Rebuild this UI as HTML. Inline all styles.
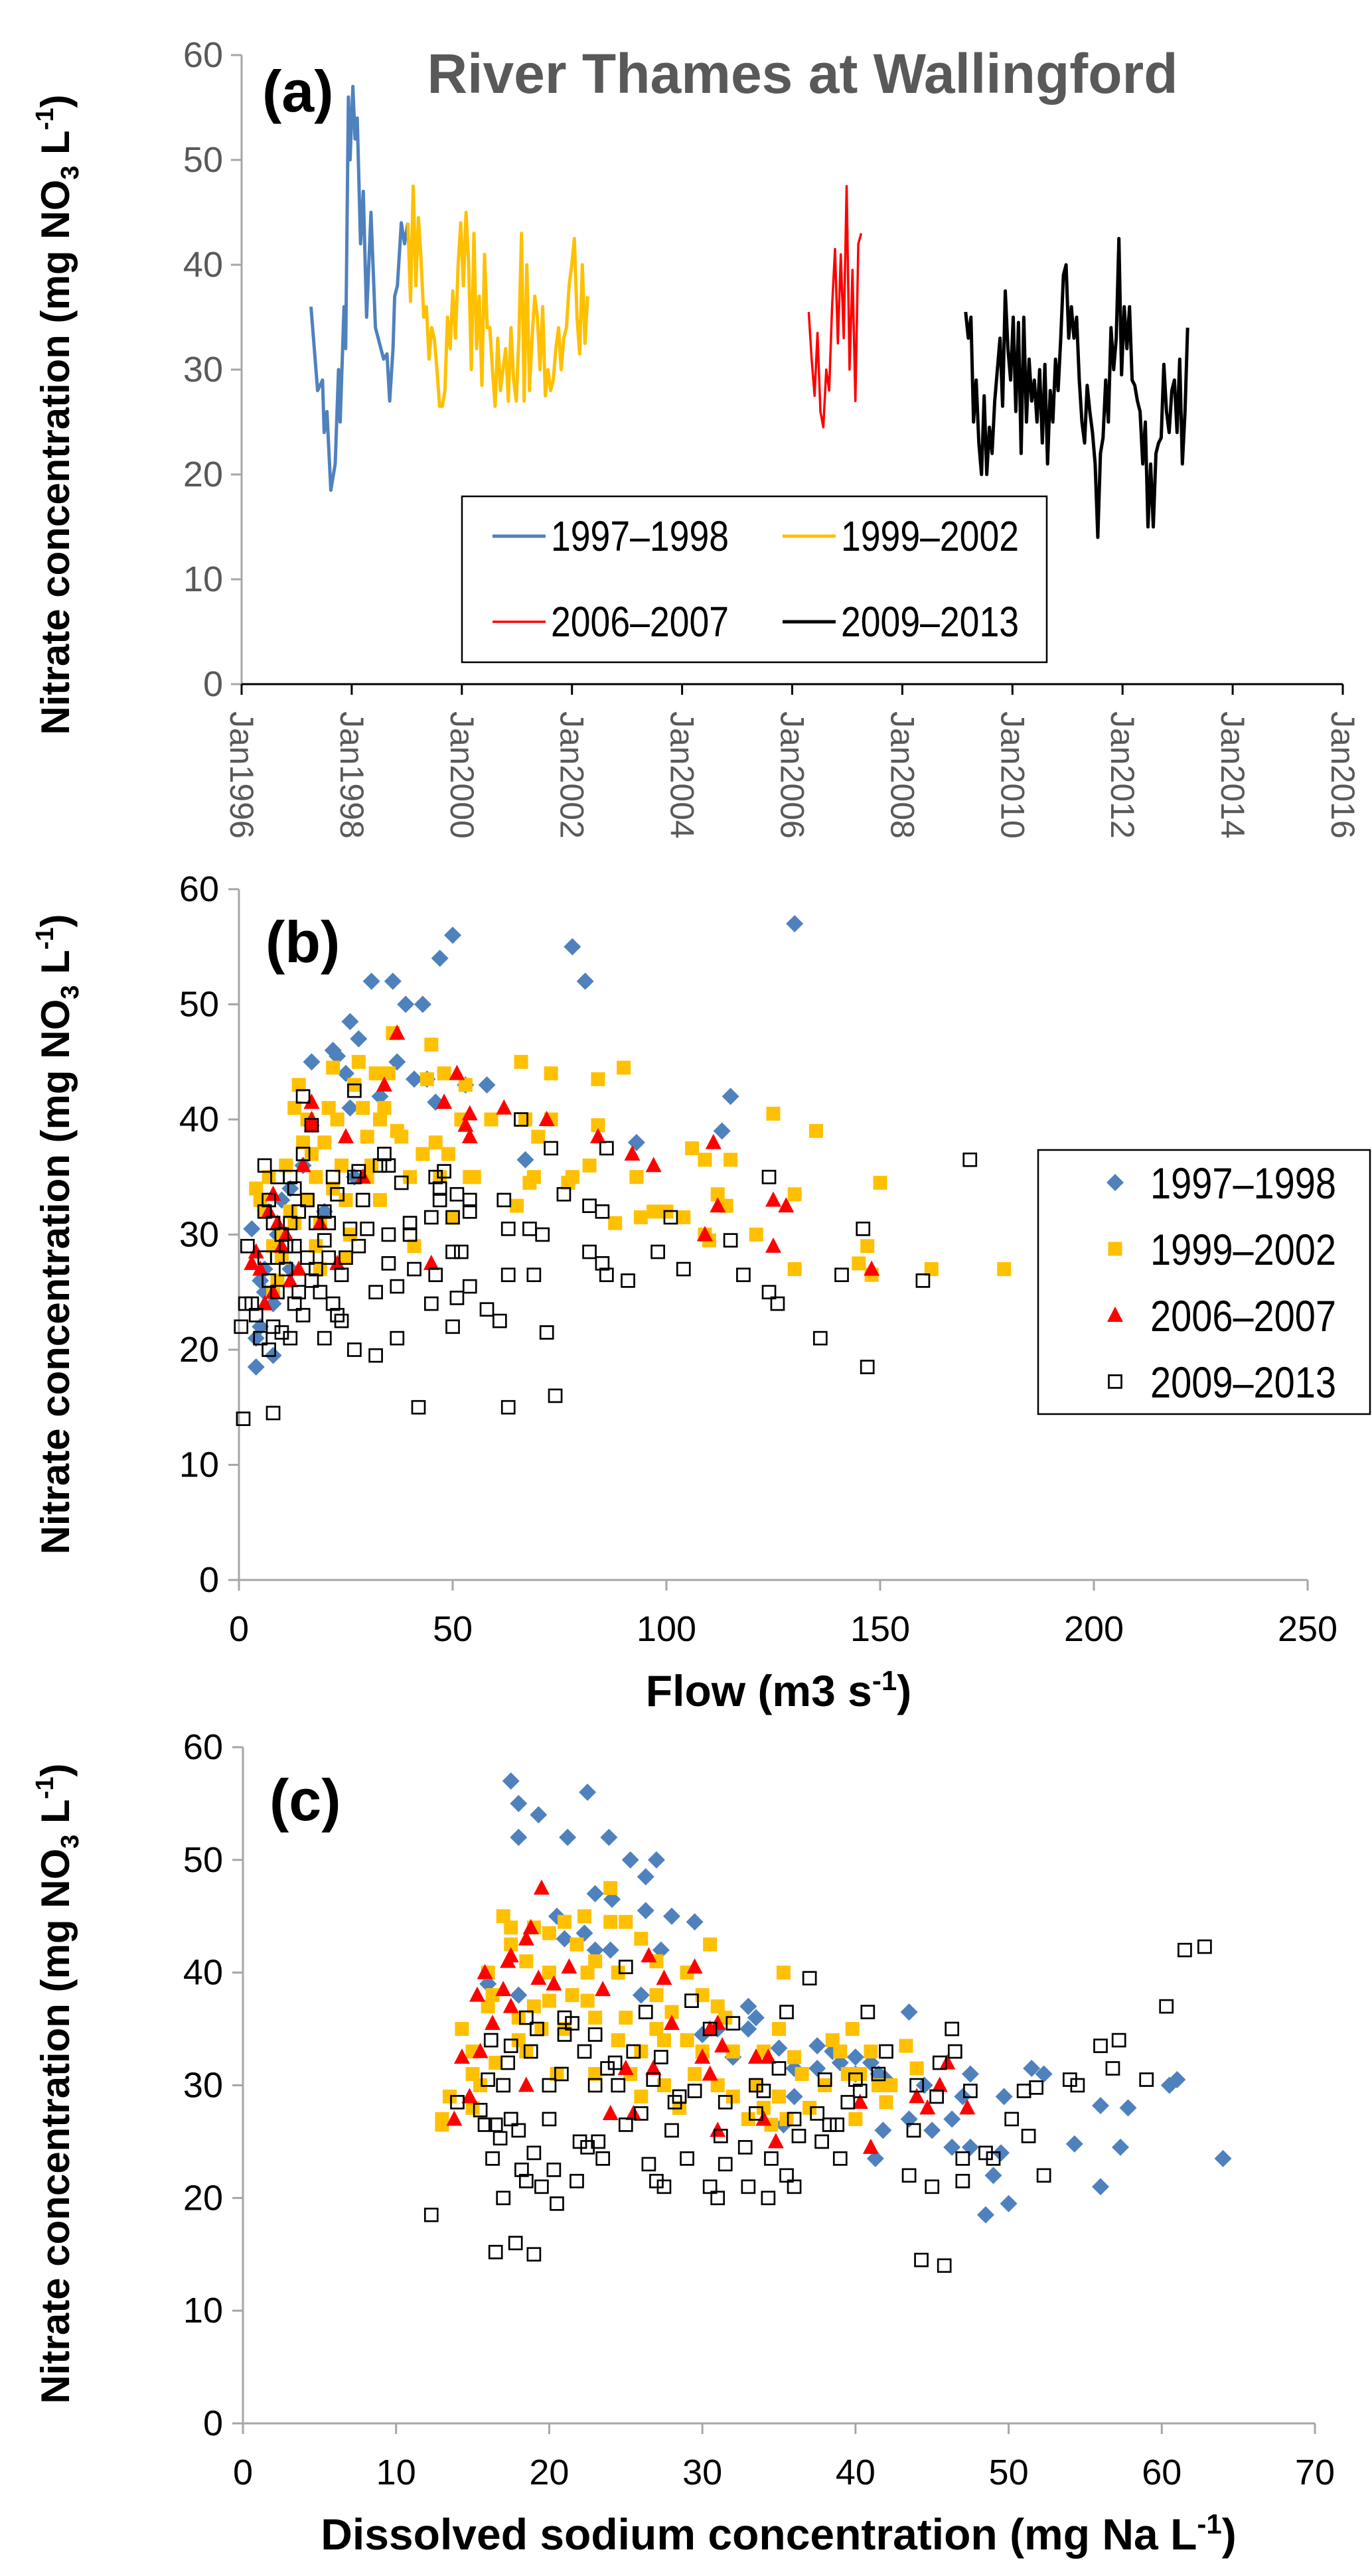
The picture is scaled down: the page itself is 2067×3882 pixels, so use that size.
<!DOCTYPE html>
<html><head><meta charset="utf-8">
<style>
html,body{margin:0;padding:0;background:#fff;}
svg{display:block;}
text{font-family:"Liberation Sans Narrow","Liberation Sans",sans-serif;}
</style></head>
<body>
<svg id="fig" width="2067" height="3882" viewBox="0 0 2067 3882" xmlns="http://www.w3.org/2000/svg"></svg>
<script>
// ---------- Panel (a) data: time series ----------
const blueYears=[1997.26,1997.38,1997.47,1997.50,1997.55,1997.62,1997.70,1997.76,1997.79,1997.86,1997.89,1997.94,1997.97,1998.02,1998.06,1998.10,1998.16,1998.21,1998.27,1998.35,1998.43,1998.58,1998.64,1998.69,1998.75,1998.78,1998.83,1998.90,1998.96,1999.02];
const blueVals=[36,28,29,24,26,18.5,21,30,25,36,32,56,50,57,52,54,42,47,35,45,34,31,31.5,27,32,37,38,44,42,44];
const yellowStart=1999.02, yellowStep=0.048;
const yellowVals=[44,36.5,47.5,38,44.5,40.5,35,36,31,34,33,30,26.5,26.5,28,35,32,37.5,33,40,44,38,45,40,30,43,32,37,28.5,41,34,34,30,26.5,33,28,30,32,27,34,29,27,33,43,27,40,28,33,37,35,30,36,27.5,30,28,29,32,34,30,33,34,38,40,42.5,35,31.5,40,32.5,37];
const redStart=2006.30, redStep=0.053;
const redVals=[35.5,31,27.5,33.5,26,24.5,30,28,36,41.5,32.5,41,33,47.5,30,39.5,27,42,43];
const blackStart=2009.15, blackStep=0.048;
const blackVals=[35.5,33,35,25,29,23,20,27.5,20,24.5,22,27,30,33,26.5,37.5,32,29,35,26,34.5,22,35,25,31,27,29,25,30,23,30.5,21,28,25,31,28,33,39,40,33,36,33,35,29,25,23,28.5,26,24,21,14,22,23.5,29,25,34,30,33,42.5,29.5,36,32,36,29,28.5,27,26,21,25,15,21,15,22,23,23.5,30.5,26,24,28,29,24,31,21,26,34];
const aYTicks=[0,10,20,30,40,50,60];
const aXTicks=[1996,1998,2000,2002,2004,2006,2008,2010,2012,2014,2016];

// ---------- Panel (b) data: flow vs nitrate ----------
const bBlue=[[3,30.5],[4,21],[4,18.5],[5,22],[6,25],[8,19.5],[8,24],[10,33],[12,27],[17,45],[22,46],[23,45.5],[25,44],[26,48.5],[26,41],[28,47],[31,52],[33,42],[36,52],[37,45],[39,50],[41,43.5],[43,50],[46,41.5],[47,54],[50,56],[53,43],[58,43],[67,36.5],[78,55],[81,52],[93,38],[113,39],[115,42],[130,57],[20,32],[15,36],[6,27],[9,30],[5,26],[27,35],[44,43.5],[12,34]];
const bYellow=[[4,34],[5,33],[6,32],[7,35],[8,29],[9,26],[10,30],[11,36],[12,32],[13,41],[14,43],[15,38],[16,40],[17,37],[18,35],[19,27],[20,38],[21,41],[22,44.5],[23,40],[24,36],[25,33],[26,30],[27,43],[28,45],[29,41],[30,38.5],[31,36],[32,44],[33,33],[34,41],[35,44],[36,47.5],[37,39],[38,38.5],[40,35],[41,29],[43,37],[44,43.5],[45,46.5],[46,38],[47,35],[48,44],[49,37],[50,31.5],[52,40],[53,43],[54,35],[55,35],[59,40],[65,32.5],[66,45],[67,40],[68,34.5],[69,35],[70,38.5],[73,44],[73,40],[77,34.5],[78,35],[82,36],[84,43.5],[84,39.5],[88,31],[90,44.5],[93,35],[94,31.5],[97,32],[100,32],[104,31.5],[106,37.5],[109,36.5],[109,30],[110,29.5],[112,33.5],[115,36.5],[114,32.5],[121,30],[125,40.5],[130,33.5],[130,27],[135,39],[145,27.5],[147,29],[148,26.5],[150,34.5],[162,27],[179,27],[16,33],[19,31],[22,34],[25,28],[18,29],[10,28],[8,25],[30,35],[33,40],[13,31]];
const bRed=[[3,27.5],[4,28.5],[5,27],[7,32],[8,33.5],[9,31],[10,29],[12,26],[15,36],[17,40],[17,41.5],[17,39.5],[19,31],[23,27.5],[25,38.5],[29,35],[34,43],[37,47.5],[45,27.5],[48,41.5],[51,44],[53,39.5],[54,38.5],[54,40.5],[62,41],[72,40],[84,38.5],[92,37],[97,36],[109,30],[111,38],[112,32.5],[125,33],[125,29],[128,32.5],[148,27],[6,24],[8,25],[11,30],[14,27]];
const bBlack=[[0.5,22],[1,14],[1.5,24],[2,29],[3,24],[4,23],[5,21],[6,28],[6,36],[6,32],[7,20],[7,26],[7,33],[8,31],[8,14.5],[8,22],[9,25],[9,35],[9,28],[10,21.5],[10,30],[11,29],[11,27],[12,31],[12,21],[12,35],[13,24],[13,29],[14,25],[14,32],[15,42],[15,37],[15,23],[16,28],[16,33],[17,39.5],[17,26],[18,31],[19,25],[20,29.5],[20,21],[21,31],[21,28],[22,24],[22,35],[23,33.5],[23,23],[24,22.5],[24,26.5],[25,28],[26,30.5],[27,35],[27,20],[27,42.5],[28,35.5],[28,29],[29,33],[30,30.5],[32,19.5],[32,25],[33,36],[34,37],[35,36],[35,30],[35,27.5],[37,25.5],[37,21],[38,34.5],[40,31],[40,30],[41,27],[42,15],[45,31.5],[45,24],[46,26.5],[46,35],[47,33],[47,34],[48,35.5],[50,31.5],[50,28.5],[50,22],[51,33.5],[51,24.5],[52,28.5],[54,33],[54,32],[54,25.5],[58,23.5],[61,22.5],[62,33],[63,30.5],[63,26.5],[63,15],[66,40],[68,30.5],[69,26.5],[71,30],[72,21.5],[73,37.5],[74,16],[76,33.5],[82,32.5],[82,28.5],[85,27.5],[85,32],[86,26.5],[86,37.5],[91,26],[98,28.5],[101,31.5],[104,27],[118,26.5],[115,29.5],[124,35],[124,25],[126,24],[136,21],[141,26.5],[146,30.5],[147,18.5],[160,26],[171,36.5],[20,32],[18,27],[13,34]];
const bXTicks=[0,50,100,150,200,250];

// ---------- Panel (c) data: sodium vs nitrate ----------
const cBlue=[[17.5,57],[18,55],[18,52],[19.3,54],[21.2,52],[22.5,56],[23.9,52],[25.3,50],[27,50],[26.3,48.5],[23,47],[24.1,46.5],[26.3,45.5],[28,45],[29.5,44.5],[20.5,45],[21,43],[22.3,43.5],[23,42],[24,42],[27.3,42],[16,39],[18,38],[26,38],[30,34.5],[33,37],[33.5,36],[33,35],[35,33.3],[36,31.5],[37.5,31.5],[37.5,33.5],[38.5,33],[39,32],[40,31],[40,32.5],[41,32],[41.5,31],[42,30.5],[43.5,36.5],[43.5,27],[44.5,30],[45,26],[46.3,27],[47,29],[47.5,31],[46.3,24.5],[47.5,24.5],[48.5,18.5],[49,22],[49.7,29],[50,19.5],[49.5,24],[51.5,31.5],[52.3,31],[54.3,24.8],[56,28.2],[56,21],[57.3,24.5],[57.8,28],[60.5,30],[61,30.5],[64,23.5],[41.3,23.5],[41.8,26],[35.3,26.5],[36,29],[32,32.5],[31,35]];
const cYellow=[[13,27],[13,26.5],[13.5,29],[14.3,35],[15,31],[15,33],[15.5,30],[16,40],[16,37],[16.3,38],[17,45],[17.5,44],[17.5,42.5],[18,36],[18.5,41],[18.5,33],[19,44],[19,37],[19.5,35],[20,43.5],[20,40],[20.5,31],[21,44.5],[21.5,38],[21.8,42.5],[22.3,45],[22.5,40],[22.5,37.5],[23,41],[23,36],[24,47.5],[24,44.5],[24.5,40],[24.5,34],[25,44.5],[25,36],[25.3,31],[26,43],[26,33],[27,41],[27,38],[27.5,34],[27.5,30],[28,36.5],[28.5,28],[29,40],[29,34],[29.5,31],[30,38],[30,33],[30.5,42.5],[31,37],[31,30],[31.5,36],[32,29],[32,33],[33,27],[33.5,30],[34,33],[34,28],[34.5,26.5],[35,29],[35,35],[35.3,40],[35.5,27],[36,32.5],[36.5,31],[37,28],[38,30],[38.5,34],[39,33],[39.5,31],[39.8,35],[40,27],[40.3,31],[41,33],[41.5,30],[42,28.5],[42.3,30],[43.3,33.5],[44,31.5],[20,37.5],[18,34],[16.5,32],[21,35],[23,31],[26,29],[15,28],[27,35]];
const cRed=[[13.8,27],[14.3,32.5],[14.8,29],[15.3,38],[15.5,33],[15.8,40],[16.3,35.5],[17,38.5],[17.5,37],[17.3,41],[17.5,41.5],[18.5,43],[18.8,44],[18.5,30],[19.3,39.5],[19.5,47.5],[20.3,39],[21.3,40.5],[23.5,38.5],[24,27.5],[25,31.5],[25.5,27.5],[26.5,41.5],[27.5,39.5],[28,35.5],[29.5,40.5],[30,32.5],[30.5,35],[30.5,31],[31,26],[31.3,33.5],[33.5,32.5],[34,27],[34.3,32.5],[34.8,25],[40.3,28.5],[41,24.5],[44,29],[44.7,28],[45.5,30],[46,32],[47.3,28],[26.8,31.5],[31,35.5]];
const cBlack=[[12.3,18.5],[14,28.5],[15.5,27.8],[15.8,26.5],[16,30.5],[16.2,34],[16.3,23.5],[16.5,26.5],[16.5,15.2],[16.8,25.3],[17,30],[17,20],[17.3,32],[17.5,27],[17.5,33.5],[17.8,16],[18,26],[18.2,22.5],[18.5,36],[18.5,21.5],[18.8,33],[19,15],[19,24],[19.2,35],[19.5,21],[20,27],[20,30],[20.3,22.5],[20.5,19.5],[20.8,31],[21,34.5],[21,36],[21.5,35.5],[21.8,21.5],[22,25],[22.3,33],[22.5,24.5],[23,30],[23,34.5],[23.2,25],[23.5,23.5],[23.8,31.5],[24.3,32],[24.5,30],[25,40.5],[25,26.5],[25.5,33],[26,27.5],[26.3,36.5],[26.5,23],[26.8,30.5],[27,21.5],[27.3,32.5],[27.5,21],[28,26],[28.2,28.5],[28.5,29],[29,23.5],[29.3,37.5],[29.5,29.5],[30.5,21],[30.5,35],[31,20],[31.2,25.5],[31.5,28.5],[31.5,23],[32,35.5],[32.8,24.5],[33,21],[33.5,27.5],[33.5,30],[34,29.5],[34.3,20],[34.5,23.5],[35,31.5],[35.5,22],[35.5,36.5],[36,27],[36,21],[36.3,25.5],[37,39.5],[37.5,27.5],[37.8,25],[38,30.5],[38.3,26.5],[38.8,26.5],[39,23.5],[39.5,28.5],[40,30.5],[40.3,29.5],[40.8,36.5],[41.5,31],[42,33],[43.5,22],[43.8,26],[44,30],[44.3,14.5],[45,21],[45.3,29],[45.5,32],[45.8,14],[46.3,35],[46.5,33],[47,23.5],[47,21.5],[47.5,29.5],[48.5,24],[49,23.5],[50.2,27],[51,29.5],[51.3,25.5],[51.8,29.8],[52.3,22],[54,30.5],[54.5,30],[56,33.5],[56.8,31.5],[57.2,34],[59,30.5],[60.3,37],[61.5,42],[62.8,42.3]];
const cXTicks=[0,10,20,30,40,50,60,70];
const seriesNames=["1997–1998","1999–2002","2006–2007","2009–2013"];

const NS="http://www.w3.org/2000/svg";
const svg=document.getElementById('fig');
function el(tag,attrs,parent,txt){const e=document.createElementNS(NS,tag);for(const k in attrs)e.setAttribute(k,attrs[k]);if(txt!==undefined)e.textContent=txt;(parent||svg).appendChild(e);return e;}

const AX="#A6A6A6", TICKC="#595959";
const BLUE="#4F81BD", YEL="#FFC000", RED="#FF0000";

// ===== Panel A =====
const A={x0:364,x1:2023,y0:1031,y1:83,xmin:1996,xmax:2016,ymax:60};
const ax=v=>A.x0+(v-A.xmin)/(A.xmax-A.xmin)*(A.x1-A.x0);
const ay=v=>A.y0-v/A.ymax*(A.y0-A.y1);
const gA=el('g',{});


let t;
t=el('line',{x1:A.x0,y1:A.y1,x2:A.x0,y2:A.y0,stroke:AX,'stroke-width':3},gA);

t=el('line',{x1:A.x0,y1:A.y0,x2:A.x1,y2:A.y0,stroke:'#000','stroke-width':3},gA);

aYTicks.forEach(v=>{
  el('line',{x1:A.x0-16,y1:ay(v),x2:A.x0,y2:ay(v),stroke:AX,'stroke-width':3},gA);
  const tx=el('text',{x:A.x0-28,y:ay(v)+18,'text-anchor':'end','font-size':54,fill:TICKC},gA,v);
  
});
aXTicks.forEach(v=>{
  const x=ax(v);
  el('line',{x1:x,y1:A.y0,x2:x,y2:A.y0+16,stroke:'#000','stroke-width':3},gA);
  const tx=el('text',{x:0,y:0,transform:`translate(${x-17},1072) rotate(90)`,'font-size':50,fill:TICKC,style:'font-family:"Liberation Sans",sans-serif'},gA,'Jan'+v);
  
});
function series(yrs,vals,color,w,name){
  const d=vals.map((v,i)=>(i?'L':'M')+ax(yrs[i]).toFixed(1)+','+ay(v).toFixed(1)).join('');
  const p=el('path',{d:d,fill:'none',stroke:color,'stroke-width':w,'stroke-linejoin':'round'},gA);
  
}
series(blueYears,blueVals,BLUE,5,'line-1997-1998');
series(yellowVals.map((v,i)=>yellowStart+i*yellowStep),yellowVals,YEL,5,'line-1999-2002');
series(redVals.map((v,i)=>redStart+i*redStep),redVals,RED,3.5,'line-2006-2007');
series(blackVals.map((v,i)=>blackStart+i*blackStep),blackVals,'#000',5,'line-2009-2013');
t=el('text',{x:1209,y:140,'text-anchor':'middle','font-size':84,'font-weight':'bold',fill:'#595959'},gA,'River Thames at Wallingford');

t=el('text',{x:395,y:168,'font-size':88,'font-weight':'bold',fill:'#000'},gA,'(a)');

// legend a
const lgA=el('g',{},gA);

el('rect',{x:696,y:748,width:881,height:250,fill:'#fff',stroke:'#000','stroke-width':2.5},lgA);
[[742,808,BLUE,5],[1179,808,YEL,5],[742,937,RED,3.5],[1179,937,'#000',5]].forEach((p,i)=>{
  const g=el('g',{},lgA);
  
  el('line',{x1:p[0],y1:p[1],x2:p[0]+80,y2:p[1],stroke:p[2],'stroke-width':p[3]},g);
  el('text',{x:p[0]+88,y:p[1]+22,'font-size':64,fill:'#000',textLength:268,lengthAdjust:'spacingAndGlyphs'},g,seriesNames[i]);
});

// ===== scatter helpers =====
function yTitle(cy,name){
  const tx=el('text',{x:0,y:0,transform:`translate(104,${cy}) rotate(-90)`,'text-anchor':'middle','font-size':60,'font-weight':'bold',fill:'#000',style:'font-family:"Liberation Sans",sans-serif'});
  
  tx.innerHTML='Nitrate concentration (mg NO<tspan font-size="38" dy="14">3</tspan><tspan dy="-14"> L</tspan><tspan font-size="38" dy="-24">-1</tspan><tspan dy="24">)</tspan>';
}
yTitle(625,'a-y-axis-title');
function marker(g,type,x,y){
  let m;
  if(type==='d') m=el('path',{d:`M${x},${y-13}L${x+13},${y}L${x},${y+13}L${x-13},${y}Z`,fill:BLUE},g);
  else if(type==='s') m=el('rect',{x:x-10.5,y:y-10.5,width:21,height:21,fill:YEL},g);
  else if(type==='t') m=el('path',{d:`M${x},${y-13}L${x+12},${y+10}L${x-12},${y+10}Z`,fill:RED},g);
  else m=el('rect',{x:x-9.5,y:y-9.5,width:19,height:19,fill:'none',stroke:'#000','stroke-width':2.7},g);
  return m;
}
function scatterPanel(P,sets,xticks,label,xtitle,pname){
  const sx=v=>P.x0+(v-P.xmin)/(P.xmax-P.xmin)*(P.x1-P.x0);
  const sy=v=>P.y0-v/60*(P.y0-P.y1);
  const g=el('g',{});
  
  let a=el('line',{x1:P.x0,y1:P.y1,x2:P.x0,y2:P.y0,stroke:AX,'stroke-width':3},g);
  
  a=el('line',{x1:P.x0,y1:P.y0,x2:P.x1,y2:P.y0,stroke:AX,'stroke-width':3},g);
  
  aYTicks.forEach(v=>{
    el('line',{x1:P.x0-16,y1:sy(v),x2:P.x0,y2:sy(v),stroke:AX,'stroke-width':3},g);
    const tx=el('text',{x:P.x0-30,y:sy(v)+18,'text-anchor':'end','font-size':54,fill:'#000'},g,v);
    
  });
  xticks.forEach(v=>{
    el('line',{x1:sx(v),y1:P.y0,x2:sx(v),y2:P.y0+16,stroke:AX,'stroke-width':3},g);
    const tx=el('text',{x:sx(v),y:P.y0+92,'text-anchor':'middle','font-size':54,fill:'#000'},g,v);
    
  });
  const types=['d','s','t','o'];
  const names=['points-1997-1998','points-1999-2002','points-2006-2007','points-2009-2013'];
  sets.forEach((arr,i)=>{
    const sg=el('g',{},g);
    
    arr.forEach(p=>{
      const m=marker(sg,types[i],sx(p[0]),sy(p[1]));
      
      
    });
  });
  const lb=el('text',{x:P.x0+40,y:P.y1+110,'font-size':88,'font-weight':'bold',fill:'#000'},g,label);
  
  const xt=el('text',{x:1173,y:P.y0+190,'text-anchor':'middle','font-size':66,'font-weight':'bold',fill:'#000'},g);
  
  xt.innerHTML=xtitle;
  return g;
}
const B={x0:360,x1:1970,y0:2381,y1:1340,xmin:0,xmax:250};
const gB=scatterPanel(B,[bBlue,bYellow,bRed,bBlack],bXTicks,'(b)','Flow (m3 s<tspan font-size="42" dy="-24">-1</tspan><tspan dy="24">)</tspan>','panel-b');
yTitle(1860,'b-y-axis-title');
// legend b
const lgB=el('g',{},gB);

el('rect',{x:1564,y:1733,width:500,height:398,fill:'#fff',stroke:'#000','stroke-width':2.5},lgB);
['d','s','t','o'].forEach((ty,i)=>{
  const y=1782+i*100;
  const g=el('g',{},lgB);
  
  marker(g,ty,1680,y);
  el('text',{x:1733,y:y+24,'font-size':66,fill:'#000',textLength:280,lengthAdjust:'spacingAndGlyphs'},g,seriesNames[i]);
});
const C={x0:366,x1:1981,y0:3652,y1:2633,xmin:0,xmax:70};
scatterPanel(C,[cBlue,cYellow,cRed,cBlack],cXTicks,'(c)','Dissolved sodium concentration (mg Na L<tspan font-size="42" dy="-24">-1</tspan><tspan dy="24">)</tspan>','panel-c');
yTitle(3140,'c-y-axis-title');
</script>
</body></html>
